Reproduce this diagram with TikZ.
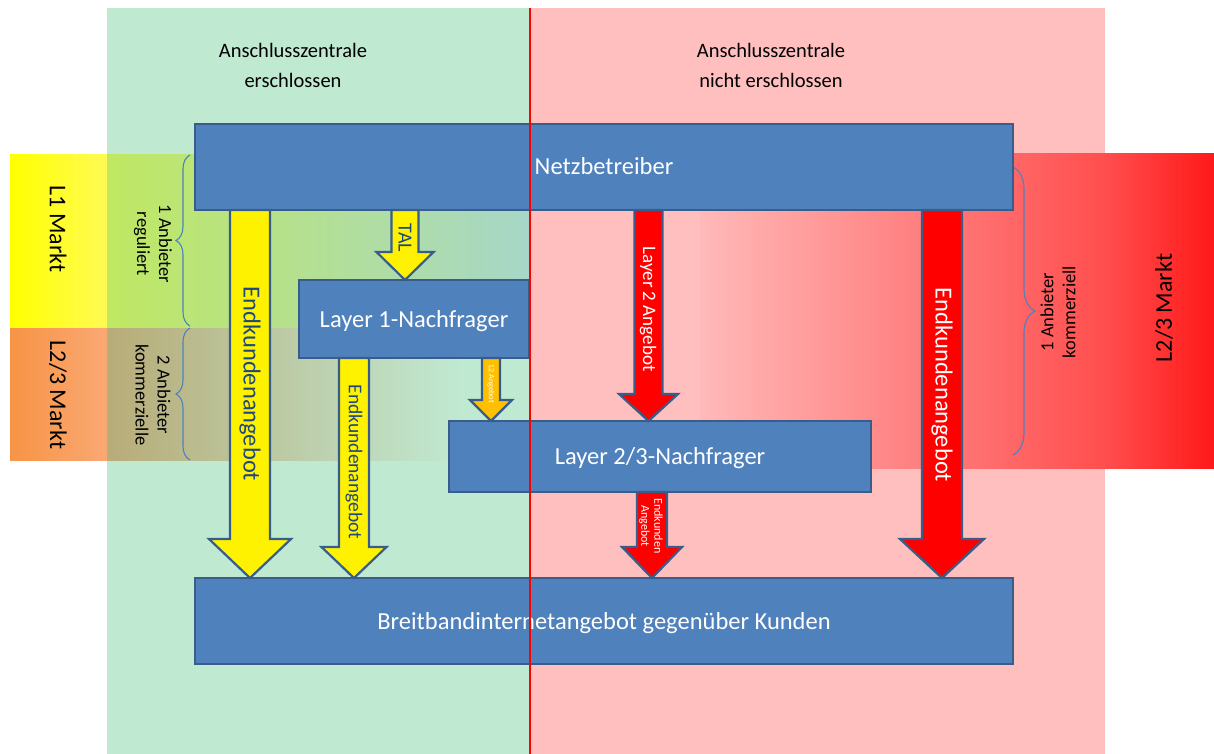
\documentclass[tikz,border=0pt]{standalone}
\usepackage{fontspec}
\setmainfont{Carlito}
\usetikzlibrary{calc,decorations.pathreplacing}

\definecolor{boxfill}{RGB}{79,129,189}
\definecolor{boxline}{RGB}{56,93,138}
\definecolor{mint}{RGB}{192,233,210}
\definecolor{rose}{RGB}{255,191,191}
\definecolor{navytext}{RGB}{31,73,125}
\definecolor{amber}{RGB}{255,192,0}
\definecolor{limeA}{RGB}{192,232,98}
\definecolor{limeB}{RGB}{178,224,160}
\definecolor{limeC}{RGB}{166,215,200}
\definecolor{tanA}{RGB}{184,172,120}
\definecolor{tanB}{RGB}{190,205,165}
\definecolor{yelA}{RGB}{255,255,0}
\definecolor{yelB}{RGB}{255,250,85}
\definecolor{orgA}{RGB}{247,148,70}
\definecolor{orgB}{RGB}{250,168,115}
\definecolor{redA}{RGB}{255,185,185}
\definecolor{redB}{RGB}{255,78,78}
\definecolor{redC}{RGB}{255,25,25}

\tikzset{
  stagebox/.style={draw=boxline, line width=2.5pt, fill=boxfill, text=white,
    font=\fontsize{24.5}{29}\selectfont, inner sep=0pt, outer sep=0pt,
    text height=16pt, text depth=0pt},
  flowarrow/.style={draw=boxline, line width=2.2pt},
  heading/.style={font=\fontsize{20.5}{30}\selectfont, align=center, text=black},
  marketlabel/.style={font=\fontsize{24}{28}\selectfont, text=black},
  countlabel/.style={font=\fontsize{18.5}{22}\selectfont, align=center, text=black},
  bracemark/.style={draw=boxfill, line width=1.1pt, decorate},
  darklabel/.style={text=navytext, inner sep=0pt},
  lightlabel/.style={text=white, inner sep=0pt},
}

% downward block arrow: x, source node, target node, shaft half width,
% head half width, head length, fill colour
\newcommand{\blockdown}[7]{%
  \coordinate (bd-s) at (#1,0 |- #2.south);
  \coordinate (bd-t) at (#1,0 |- #3.north);
  \draw[flowarrow, fill=#7]
    ([xshift=-#4pt]bd-s) -- ([xshift=-#4pt,yshift=#6pt]bd-t)
    -- ([xshift=-#5pt,yshift=#6pt]bd-t) -- (bd-t)
    -- ([xshift=#5pt,yshift=#6pt]bd-t) -- ([xshift=#4pt,yshift=#6pt]bd-t)
    -- ([xshift=#4pt]bd-s) -- cycle;
}

\begin{document}
\begin{tikzpicture}[x=1pt, y=-1pt]
\useasboundingbox (0,0) rectangle (1214,754);

% background panels
\fill[mint] (107,8) rectangle (529,754);
\fill[rose] (529,8) rectangle (1105,754);

% market bands
\shade[left color=yelA, right color=yelB] (10,155) rectangle (107,328);
\shade[left color=orgA, right color=orgB] (10,328) rectangle (107,460);
\shade[left color=limeA, middle color=limeB, right color=limeC] (107,155) rectangle (529,328);
\shade[left color=tanA, middle color=tanB, right color=mint] (107,328) rectangle (460,460);
\fill[rose] (529,154) rectangle (700,468);
\shade[left color=redA, right color=redB] (700,154) rectangle (1105,468);
\shade[left color=redB, right color=redC] (1105,154) rectangle (1214,468);

% braces
\draw[bracemark, decoration={brace, amplitude=14pt}] (190,326) -- (190,155);
\draw[bracemark, decoration={brace, amplitude=14pt}] (190,460) -- (190,328);
\draw[bracemark, decoration={brace, amplitude=22pt}] (1013,167) -- (1013,455);

% headings
\node[heading] (hdr-left) at (293,65) {Anschlusszentrale\\erschlossen};
\node[heading] (hdr-right) at (771,65) {Anschlusszentrale\\nicht erschlossen};

% market labels
\node[marketlabel, rotate=-90] (mkt-l1) at (58,229) {L1 Markt};
\node[marketlabel, rotate=-90] (mkt-l23) at (58,395) {L2/3 Markt};
\node[marketlabel, rotate=90] (mkt-r23) at (1164,308) {L2/3 Markt};
\node[countlabel, rotate=-90] (cnt-reg) at (153,244) {1 Anbieter\\reguliert};
\node[countlabel, rotate=-90] (cnt-two) at (153,395) {2 Anbieter\\kommerzielle};
\node[countlabel, rotate=90] (cnt-one) at (1058,312) {1 Anbieter\\kommerziell};

% actors
\node[stagebox, minimum width=818pt, minimum height=86pt] (net) at (604,167) {Netzbetreiber};
\node[stagebox, minimum width=230pt, minimum height=78pt] (l1) at (414,319) {Layer 1-Nachfrager};
\node[stagebox, minimum width=422pt, minimum height=71pt] (l23) at (660,456.5) {Layer 2/3-Nachfrager};
\node[stagebox, minimum width=818pt, minimum height=86pt] (bb) at (604,621) {Breitbandinternetangebot gegenüber Kunden};

% supply flows
\blockdown{250}{net}{bb}{20}{41}{39}{yellow}
\blockdown{354}{l1}{bb}{15}{32.5}{31}{yellow}
\blockdown{405}{net}{l1}{13.5}{28.5}{28}{yellow}
\blockdown{491}{l1}{l23}{9}{21}{21}{amber}
\blockdown{648.5}{net}{l23}{14}{29.5}{27}{red}
\blockdown{652}{l23}{bb}{15}{30}{31}{red}
\blockdown{942}{net}{bb}{20}{42}{39}{red}

% flow labels
\node[darklabel, rotate=-90, font=\fontsize{24.5}{28}\selectfont] (lbl-ea) at (250,384) {Endkundenangebot};
\node[darklabel, rotate=-90, font=\fontsize{19.5}{22}\selectfont] (lbl-eb) at (354,462) {Endkundenangebot};
\node[darklabel, rotate=-90, font=\fontsize{20}{22}\selectfont] (lbl-tal) at (405,238) {TAL};
\node[lightlabel, rotate=-90, font=\fontsize{8.2}{9}\selectfont] (lbl-l2) at (491,384) {L2 Angebot};
\node[lightlabel, rotate=-90, font=\fontsize{19}{22}\selectfont] (lbl-l2a) at (648,309) {Layer 2 Angebot};
\node[lightlabel, rotate=-90, align=center, font=\fontsize{12}{13}\selectfont] (lbl-ec) at (651,526) {Endkunden\\Angebot};
\node[lightlabel, rotate=-90, font=\fontsize{24.5}{28}\selectfont] (lbl-ed) at (942,385) {Endkundenangebot};

% divide between connected and unconnected exchanges
\coordinate (split-top) at (530,8);
\coordinate (split-bottom) at (530,754);
\draw[red, line width=2.3pt] (split-top) -- (split-bottom);
\end{tikzpicture}
\end{document}
